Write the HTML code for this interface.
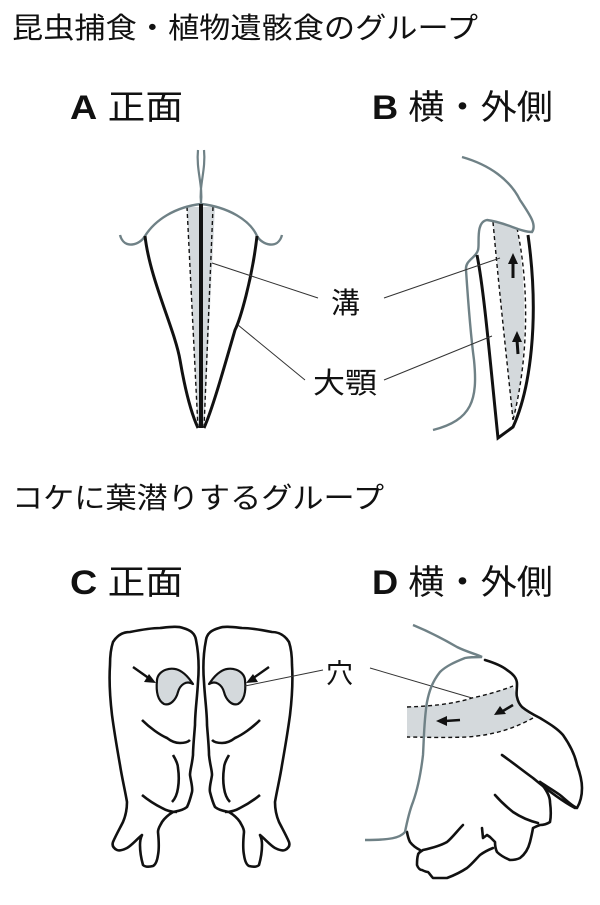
<!DOCTYPE html>
<html><head><meta charset="utf-8"><style>
html,body{margin:0;padding:0;background:#fff}
svg{display:block}
text{font-family:"Liberation Sans","Noto Sans CJK JP",sans-serif;fill:#111}
</style></head><body>
<svg width="600" height="905" viewBox="0 0 600 905" xmlns="http://www.w3.org/2000/svg">
<!-- titles -->
<text x="12" y="38" font-size="29" textLength="466" lengthAdjust="spacingAndGlyphs">昆虫捕食・植物遺骸食のグループ</text>
<text x="70" y="119" font-size="34" textLength="113" lengthAdjust="spacingAndGlyphs"><tspan font-weight="bold">A</tspan> 正面</text>
<text x="372" y="119" font-size="34" textLength="181" lengthAdjust="spacingAndGlyphs"><tspan font-weight="bold">B</tspan> 横・外側</text>
<text x="12" y="508" font-size="29" textLength="372" lengthAdjust="spacingAndGlyphs">コケに葉潜りするグループ</text>
<text x="70" y="594" font-size="34" textLength="113" lengthAdjust="spacingAndGlyphs"><tspan font-weight="bold">C</tspan> 正面</text>
<text x="372" y="594" font-size="34" textLength="181" lengthAdjust="spacingAndGlyphs"><tspan font-weight="bold">D</tspan> 横・外側</text>

<!-- Panel A -->
<polygon points="187,207 215,207 204,428 198,428" fill="#d4d9dc"/>
<path d="M187,207 L198,428 M213,207 L204,428" stroke="#111" stroke-width="1.4" stroke-dasharray="4,3" fill="none"/>
<path d="M198,150 C196,170 203,185 201,203 M204,150 C206,170 199,185 201,203" stroke="#6f8186" stroke-width="2.2" fill="none"/>
<path d="M120,235 C124,250 140,245 145,236 C155,220 175,207 201,204 C228,207 250,220 257,236 C262,245 278,250 282,235" stroke="#6f8186" stroke-width="2.4" fill="none"/>
<path d="M145,236 C150,280 175,330 180,360 C186,395 192,415 198,428" stroke="#111" stroke-width="3" fill="none"/>
<path d="M257,236 C252,280 240,320 235,330 C222,375 212,410 204,428" stroke="#111" stroke-width="3" fill="none"/>
<path d="M201,204 L201,428" stroke="#111" stroke-width="4" fill="none"/>

<!-- Panel B -->
<path d="M493,222 L517,228 C527,290 528,360 513,420 Z" fill="#d4d9dc"/>
<path d="M493,222 C500,300 508,370 513,420 M517,228 C530,290 528,360 513,420" stroke="#111" stroke-width="1.4" stroke-dasharray="4,3" fill="none"/>
<path d="M462,157 C490,165 510,180 520,200 C530,215 537,225 532,232 C520,232 505,222 487,220 C475,222 480,245 478,250 C476,258 465,260 466,270 C468,300 470,330 474,360 C478,400 472,420 433,430" stroke="#6f8186" stroke-width="2.4" fill="none"/>
<path d="M477,255 C484,290 490,360 498,438 L513,427 C530,390 540,320 528,235" stroke="#111" stroke-width="3" fill="none"/>
<path d="M513,278 L513,262" stroke="#111" stroke-width="3"/><polygon points="508,264 513,253 518,264" fill="#111"/>
<path d="M518,354 L517,340" stroke="#111" stroke-width="3"/><polygon points="512,342 517,331 522,342" fill="#111"/>
<!-- leaders -->
<path d="M212,263 L318,298 M384,298 L500,258 M238,325 L305,380 M384,380 L492,336" stroke="#333" stroke-width="1" fill="none"/>
<text x="331" y="313" font-size="29">溝</text>
<text x="313" y="393" font-size="29" textLength="64" lengthAdjust="spacingAndGlyphs">大顎</text>

<!-- Panel C -->
<g id="cl" fill="none" stroke="#111" stroke-width="2.6" stroke-linejoin="round">
<path d="M113,642 C118,634 124,632 130,632 C140,630 150,628 160,628 C170,627 178,626 183,628 C190,630 195,633 196,640 C199,655 199,670 198,682 C197,700 195,712 195,725 C194,738 193,748 193,755 C192,765 190,770 190,775 C191,782 193,788 192,792 C190,800 188,805 187,807 C182,811 177,811 173,812 C168,815 164,819 162,822 C160,826 158,828 158,832 C159,842 159,850 158,855 C157,862 155,865 153,866 C149,867 145,867 143,865 C141,858 140,852 140,845 C140,840 141,837 142,835 C136,840 132,845 127,848 C123,850 119,851 117,850 C113,848 112,845 113,842 C116,835 120,828 123,822 C126,815 127,808 127,802 C125,790 122,778 120,765 C117,748 114,730 112,715 C110,698 109,680 110,665 C110,655 111,648 113,642 Z"/>
<path d="M157,680 C158,670 172,665 182,672 C188,676 190,680 193,684 C186,680 180,685 178,692 C176,700 170,706 164,704 C157,700 156,690 157,680 Z" fill="#d4d9dc" stroke-width="2.2"/>
<path d="M133,667 L150,679" stroke-width="2.4"/><polygon points="156,683 144,682 149,674" fill="#111" stroke="none"/>
<path d="M142,720 C150,728 160,735 167,738 C172,742 176,743 180,743 C184,743 188,742 190,740"/>
<path d="M173,755 C176,760 178,764 178,768 C179,775 179,782 178,788 C177,795 175,799 172,802"/>
<path d="M142,795 C148,800 156,805 162,808 C167,811 172,812 177,812"/>
</g>
<use href="#cl" transform="translate(402,0) scale(-1,1)"/>
<path d="M245,686 L323,670" stroke="#333" stroke-width="1"/>
<text x="326" y="683" font-size="27">穴</text>
<path d="M370,668 L472,698" stroke="#333" stroke-width="1"/>

<!-- Panel D -->
<path d="M407,707 C440,706 460,702 472,698 C490,694 503,690 513,686 L517,697 L522,707 L533,718 C515,728 495,735 467,737 C440,738 420,737 407,737 Z" fill="#d4d9dc"/>
<path d="M407,707 C440,706 460,702 472,698 C490,694 503,690 513,686 M533,718 C515,728 495,735 467,737 C440,738 420,737 407,737" stroke="#111" stroke-width="1.4" stroke-dasharray="4,3" fill="none"/>
<g fill="none" stroke="#111" stroke-width="2.6" stroke-linejoin="round" stroke-linecap="round">
<path d="M485,660 C495,663 502,666 507,670 C513,674 517,678 517,684 C517,690 516,694 517,697 C518,702 520,705 522,707 C528,712 534,715 540,718 C548,723 557,728 563,735 C570,745 575,755 577,765 C580,773 582,781 582,788 C582,796 580,803 577,808 C572,806 566,800 560,795 C553,790 546,786 540,782"/>
<path d="M502,755 C512,762 522,770 533,778 C545,788 560,800 575,808"/>
<path d="M540,782 C545,788 550,795 550,802 C551,810 551,817 550,822 C547,824 543,825 540,825 C537,826 535,827 533,828 C532,834 531,838 530,842 C528,850 524,855 520,858 C516,860 513,860 510,860 C505,858 500,855 497,852 C495,848 495,845 495,842 C493,840 491,838 490,837 L487,835 L483,838 L482,828"/>
<path d="M495,795 C502,803 508,808 513,812 C522,818 530,821 538,823"/>
<path d="M463,825 C458,830 452,838 447,842 C440,846 432,848 423,850 C420,852 418,853 418,855 C417,858 417,862 417,865 C418,868 420,870 422,870 C424,871 426,872 428,872 C430,874 431,876 433,878 C438,878 442,878 447,878 C455,875 461,872 467,868 C472,864 476,859 480,855 C484,852 488,850 493,848"/>
<path d="M407,832 C408,838 409,840 410,842 C413,846 416,848 420,850"/>
</g>
<path d="M460,720 L445,721" stroke="#111" stroke-width="2.6"/><polygon points="447,716 436,721 447,726" fill="#111"/>
<path d="M513,705 L503,711" stroke="#111" stroke-width="2.6"/><polygon points="500,706 494,715 506,714" fill="#111"/>
<path d="M413,625 C430,632 445,640 457,647 C467,652 476,654 482,657 C476,657 470,657 465,658 C455,662 446,666 440,672 C432,682 429,692 427,702 C424,720 424,738 423,755 C421,772 418,788 413,802 C409,812 407,822 405,832 C400,838 390,840 365,840" stroke="#6f8186" stroke-width="2.4" fill="none"/>
</svg>
</body></html>
